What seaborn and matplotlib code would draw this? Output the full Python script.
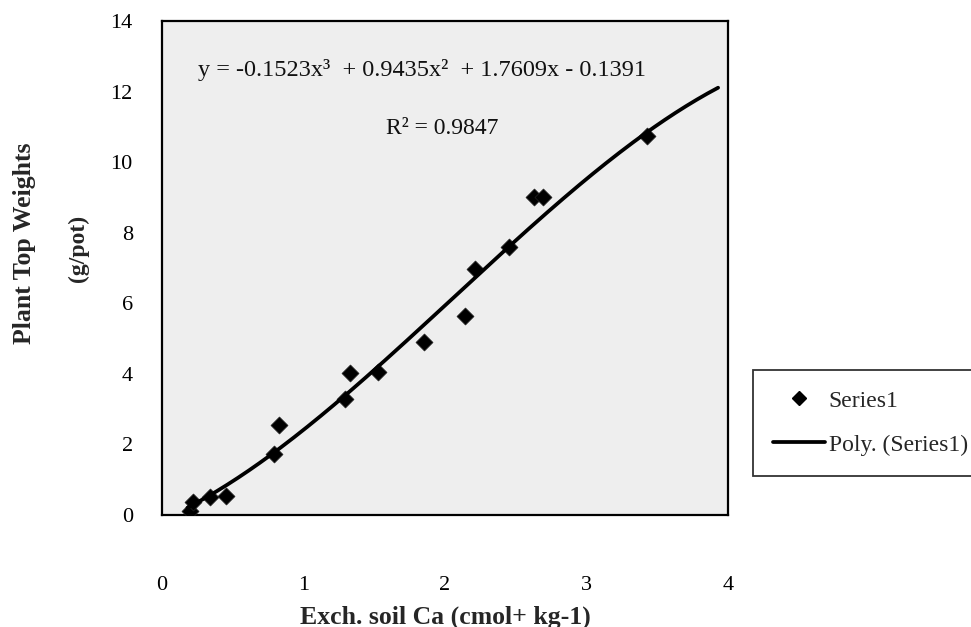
import numpy as np
import pandas as pd
import matplotlib
matplotlib.use("Agg")
import matplotlib.pyplot as plt
import seaborn as sns
from matplotlib.lines import Line2D

# ---- data ----
ca = [0.20, 0.22, 0.34, 0.45, 0.79, 0.83, 1.29, 1.33, 1.53, 1.85, 2.14, 2.21, 2.45, 2.63, 2.69, 3.43]
weight = [0.11, 0.37, 0.51, 0.54, 1.73, 2.55, 3.29, 4.03, 4.06, 4.91, 5.65, 6.97, 7.60, 9.00, 9.02, 10.73]
poly_coef = [-0.1523, 0.9435, 1.7609, -0.1391]   # cubic trendline shown on the chart
fit_range = [0.18, 3.93]
x_ticks = [0, 1, 2, 3, 4]
y_ticks = [0, 2, 4, 6, 8, 10, 12, 14]
equation = "y = -0.1523x\u00b3  + 0.9435x\u00b2  + 1.7609x - 0.1391"
r2_text = "R\u00b2 = 0.9847"

sns.set_style("white")
plt.rcParams['font.family'] = ['Liberation Serif', 'DejaVu Serif']

fig = plt.figure(figsize=(9.71, 6.27), dpi=100)
ax = fig.add_axes([162/971, 1-515/627, (728-162)/971, (515-21)/627])
ax.set_facecolor('#eeeeee')

df = pd.DataFrame({"ca": ca, "weight": weight})
sns.scatterplot(data=df, x="ca", y="weight", marker="D", s=75, color="black",
                edgecolor="#222222", linewidth=0.5, ax=ax, zorder=3)

xf = np.linspace(fit_range[0], fit_range[1], 200)
fit = pd.DataFrame({"x": xf, "y": np.polyval(poly_coef, xf)})
sns.lineplot(data=fit, x="x", y="y", color="black", linewidth=2.7, ax=ax, zorder=4)

ax.set_xlim(0, 4)
ax.set_ylim(0, 14)
ax.set_xticks(x_ticks)
ax.set_yticks(y_ticks)
ax.set_xticklabels([str(t) for t in x_ticks], fontsize=16)
ax.set_yticklabels([str(t) for t in y_ticks], fontsize=16)
ax.tick_params(axis='x', direction='inout', length=16, width=1.3, pad=36, colors='black')
ax.tick_params(axis='y', direction='in', length=8, width=1.3, pad=21, colors='black')
ax.set_xlabel("")
ax.set_ylabel("")
for sp in ax.spines.values():
    sp.set_color('black')
    sp.set_linewidth(1.6)

ax.text(0.064, 0.90, equation, transform=ax.transAxes, fontsize=17.5, color='#111111',
        ha='left', va='center')
ax.text(0.495, 0.783, r2_text, transform=ax.transAxes, fontsize=17, color='#111111',
        ha='center', va='center')

fig.text(445/971, 1-617/627, "Exch. soil Ca (cmol+ kg-1)", fontsize=18.5, fontweight='bold',
         ha='center', va='center')
fig.text(25/971, 1-243/627, "Plant Top Weights", fontsize=18.5, fontweight='bold',
         rotation=90, ha='center', va='center')
fig.text(78/971, 1-248/627, "(g/pot)", fontsize=17, fontweight='bold',
         rotation=90, ha='center', va='center')

handles = [Line2D([], [], marker='D', color='black', linestyle='none', markersize=7),
           Line2D([], [], color='black', linewidth=2.7)]
leg = fig.legend(handles, ["Series1", "Poly. (Series1)"], loc='upper left',
                 bbox_to_anchor=(753/971, 1-370/627), fontsize=17, frameon=True,
                 fancybox=False, edgecolor='black', handlelength=2.2, labelspacing=0.95,
                 borderpad=0.85, handletextpad=0.15, borderaxespad=0)
leg.get_frame().set_linewidth(1.3)
leg.get_frame().set_facecolor('white')

fig.savefig("out.png", dpi=100, facecolor='white')
